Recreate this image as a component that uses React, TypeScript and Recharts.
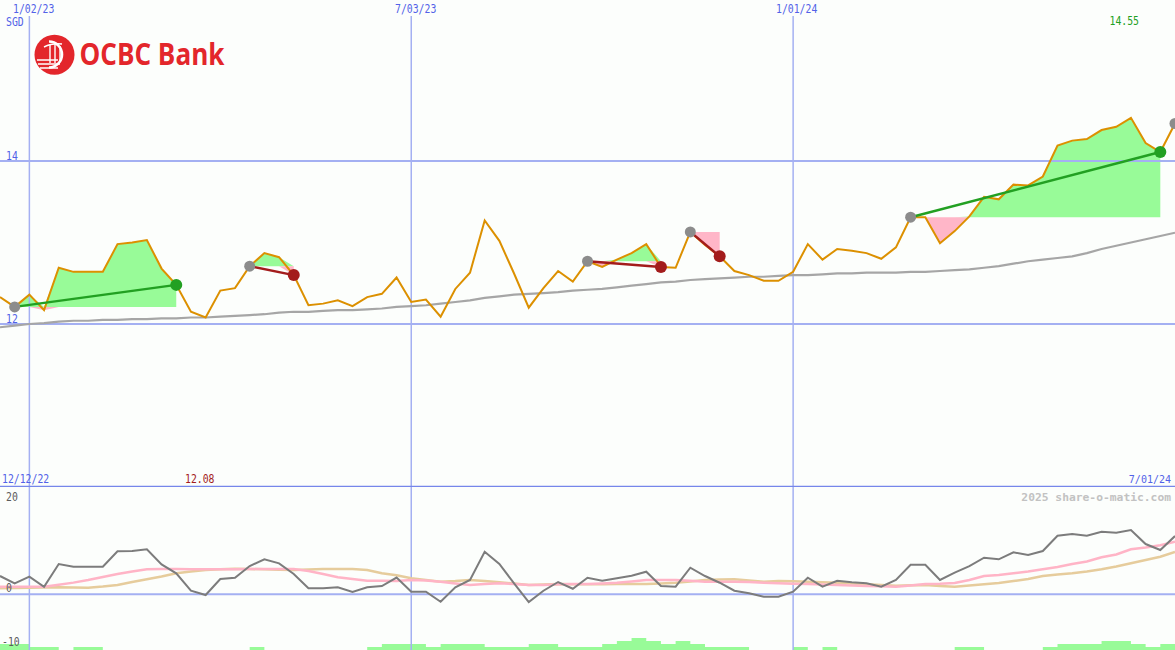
import React from 'react';
import { ComposedChart, Line, Area, XAxis, YAxis, ReferenceLine } from 'recharts';

// weekly closes, 12/19/22 .. 7/01/24 (SGD)
const price = [
  12.33, 12.21, 12.36, 12.17, 12.69, 12.64, 12.64, 12.64, 12.98, 13.0,
  13.03, 12.68, 12.48, 12.15, 12.08, 12.41, 12.44, 12.71, 12.87, 12.82,
  12.6, 12.23, 12.25, 12.29, 12.22, 12.33, 12.37, 12.57, 12.27, 12.3,
  12.09, 12.43, 12.63, 13.27, 13.02, 12.62, 12.2, 12.44, 12.65, 12.52,
  12.77, 12.7, 12.79, 12.87, 12.98, 12.7, 12.69, 13.13, 12.97, 12.83,
  12.65, 12.6, 12.53, 12.53, 12.64, 12.98, 12.79, 12.92, 12.9, 12.87,
  12.8, 12.94, 13.31, 13.31, 12.99, 13.14, 13.32, 13.56, 13.53, 13.71,
  13.7, 13.81, 14.19, 14.25, 14.27, 14.38, 14.42, 14.53, 14.22, 14.11,
  14.46,
];

// long moving average (grey)
const ma40 = [
  11.96, 11.98, 12.0, 12.01, 12.03, 12.04, 12.04, 12.05, 12.05, 12.06,
  12.06, 12.07, 12.07, 12.08, 12.08, 12.09, 12.1, 12.11, 12.12, 12.14,
  12.15, 12.15, 12.16, 12.17, 12.17, 12.18, 12.19, 12.21, 12.22, 12.23,
  12.25, 12.27, 12.29, 12.32, 12.34, 12.36, 12.37, 12.38, 12.39, 12.41,
  12.42, 12.43, 12.45, 12.47, 12.49, 12.51, 12.52, 12.54, 12.55, 12.56,
  12.57, 12.58, 12.58, 12.59, 12.6, 12.6, 12.61, 12.62, 12.62, 12.63,
  12.63, 12.63, 12.64, 12.64, 12.65, 12.66, 12.67, 12.69, 12.71, 12.74,
  12.77, 12.79, 12.81, 12.83, 12.87, 12.92, 12.96, 13.0, 13.04, 13.08,
  13.12,
];

// lower panel oscillator (dark grey)
const osc = [
  3.76, 2.26, 3.62, 1.56, 6.23, 5.67, 5.67, 5.67, 8.84, 8.9,
  9.25, 6.16, 4.31, 0.74, -0.14, 3.14, 3.41, 5.81, 7.19, 6.37,
  4.17, 1.23, 1.23, 1.44, 0.47, 1.44, 1.71, 3.45, 0.53, 0.53,
  -1.52, 1.44, 2.94, 8.75, 6.23, 2.26, -1.58, 0.74, 2.53, 1.15,
  3.41, 2.79, 3.29, 3.82, 4.64, 1.71, 1.56, 5.47, 3.76, 2.38,
  0.74, 0.21, -0.49, -0.49, 0.53, 3.41, 1.56, 2.79, 2.47, 2.26,
  1.56, 2.94, 6.08, 6.08, 2.94, 4.44, 5.81, 7.52, 7.19, 8.63,
  8.07, 8.9, 12.04, 12.39, 12.04, 12.86, 12.66, 13.21, 10.33, 9.1,
  11.98,
];

// oscillator fast average (pink)
const oscPink = [
  1.56, 1.56, 1.56, 1.56, 1.97, 2.4, 2.94, 3.55, 4.17, 4.68,
  5.14, 5.2, 5.2, 5.14, 5.14, 5.14, 5.14, 5.2, 5.2, 5.2,
  5.2, 4.79, 4.17, 3.49, 3.14, 2.79, 2.79, 2.73, 2.94, 2.84,
  2.59, 2.22, 1.91, 2.12, 2.26, 2.12, 1.91, 1.91, 2.05, 2.12,
  2.12, 2.22, 2.38, 2.63, 2.94, 2.94, 2.94, 2.79, 2.59, 2.59,
  2.59, 2.53, 2.38, 2.26, 2.18, 2.12, 2.01, 1.91, 1.81, 1.71,
  1.64, 1.56, 1.81, 2.12, 2.18, 2.32, 2.94, 3.76, 3.97, 4.31,
  4.68, 5.14, 5.61, 6.23, 6.74, 7.6, 8.18, 9.25, 9.62, 10.07,
  10.81,
];

// oscillator slow average (tan)
const oscTan = [
  1.23, 1.29, 1.36, 1.4, 1.44, 1.4, 1.36, 1.6, 1.91, 2.53,
  3.08, 3.66, 4.31, 4.68, 4.99, 5.14, 5.26, 5.2, 5.14, 5.05,
  4.99, 5.1, 5.2, 5.2, 5.2, 4.99, 4.31, 3.9, 3.29, 2.94,
  2.59, 2.73, 2.94, 2.73, 2.47, 2.22, 1.91, 2.01, 2.12, 2.08,
  2.05, 2.08, 2.12, 2.12, 2.12, 2.22, 2.38, 2.63, 2.94, 3.04,
  3.08, 2.84, 2.59, 2.73, 2.67, 2.59, 2.49, 2.38, 2.22, 2.05,
  1.91, 1.77, 1.85, 1.91, 1.71, 1.56, 1.81, 2.05, 2.32, 2.73,
  3.14, 3.76, 4.07, 4.31, 4.68, 5.14, 5.71, 6.37, 7.05, 7.73,
  8.69,
];

// green histogram steps along the bottom edge
const hist = [
  2, 2, 1, 1, 0, 1, 1, 0, 0, 0,
  0, 0, 0, 0, 0, 0, 0, 1, 0, 0,
  0, 0, 0, 0, 0, 1, 2, 2, 2, 1,
  2, 2, 2, 1, 1, 1, 2, 2, 1, 1,
  1, 2, 3, 4, 3, 2, 3, 2, 1, 1,
  1, 0, 0, 0, 1, 0, 1, 0, 0, 0,
  0, 0, 0, 0, 0, 1, 1, 0, 0, 0,
  0, 1, 2, 2, 2, 3, 3, 2, 1, 2,
  2,
];

// trend signals: start index, end index, direction
const segStart = [1, 17, 40, 47, 62];
const segEnd = [12, 20, 45, 49, 79];
const segUp = [true, false, false, false, true];
const openSignal = 80;

// date grid (week index) and labels
const gridWeeks = [2, 28, 54];
const gridLabels = ['1/02/23', '7/03/23', '1/01/24'];
const startLabel = '12/12/22';
const endLabel = '7/01/24';
const priceTicks = [14, 12];
const oscTicks = ['20', '0', '-10'];
const minLabel = '12.08';
const maxLabel = '14.55';
const credit = '2025 share-o-matic.com';

const BG = '#fcfefc';
const BLUE = '#5262e8';
const GRID = '#a4b0f2';
const SEP = '#7686ea';
const GREEN_FILL = '#98fb98';
const PINK_FILL = '#ffb6c8';
const MONO = "'DejaVu Sans Mono', 'Liberation Mono', monospace";

const rows = price.map((p, i) => {
  const row: any = {
    i,
    price: p,
    ma: ma40[i],
    osc: osc[i],
    pink: oscPink[i],
    tan: oscTan[i],
    hist: hist[i],
  };
  segStart.forEach((s, k) => {
    const e = segEnd[k];
    if (i >= s && i <= e) {
      const b = price[s];
      row.gBand = [b, Math.max(p, b)];
      row.pBand = [Math.min(p, b), b];
    }
    if (i === s || i === e) row['t' + k] = p;
    if (i === s) row.grayDot = p;
    if (i === e) row[segUp[k] ? 'greenDot' : 'redDot'] = p;
  });
  if (i === openSignal) row.grayDot = p;
  return row;
});

const W = 1175;
const N = price.length - 1;

function Label({ t, x, y, c }: any) {
  return (
    <text
      x={x}
      y={y}
      fill={c}
      fontSize={12}
      fontFamily={MONO}
      textLength={t.length * 5.9}
      lengthAdjust="spacingAndGlyphs"
    >
      {t}
    </text>
  );
}

function RightLabel({ t, x, y, c, size = 11, bold = false }: any) {
  return (
    <text x={x} y={y} fill={c} fontSize={size} fontWeight={bold ? 700 : 400} fontFamily={MONO} textAnchor="end">
      {t}
    </text>
  );
}

export default function App() {
  const gridX = [13, 395, 776];
  return (
    <div
      style={{
        position: 'absolute',
        left: 0,
        top: 0,
        width: W,
        height: 650,
        background: BG,
        overflow: 'hidden',
      }}
    >
      <div style={{ position: 'absolute', left: 0, top: -2 }}>
        <ComposedChart width={W} height={489} data={rows} margin={{ top: 0, right: 0, bottom: 0, left: 0 }}>
          <XAxis type="number" dataKey="i" domain={[0, N]} hide />
          <YAxis type="number" domain={[10, 16]} hide allowDataOverflow />
          {priceTicks.map((v) => (
            <ReferenceLine key={'h' + v} y={v} stroke={GRID} strokeWidth={2} />
          ))}
          {gridWeeks.map((w) => (
            <ReferenceLine
              key={'v' + w}
              segment={[
                { x: w, y: 15.78 },
                { x: w, y: 10 },
              ]}
              stroke={GRID}
              strokeWidth={1.5}
            />
          ))}
          <ReferenceLine y={10} stroke={SEP} strokeWidth={2.5} />
          <Area dataKey="gBand" fill={GREEN_FILL} fillOpacity={1} stroke="none" dot={false} activeDot={false} isAnimationActive={false} />
          <Area dataKey="pBand" fill={PINK_FILL} fillOpacity={1} stroke="none" dot={false} activeDot={false} isAnimationActive={false} />
          <Line dataKey="ma" stroke="#a6a6a6" strokeWidth={2.2} dot={false} activeDot={false} isAnimationActive={false} />
          <Line dataKey="price" stroke="#dc9000" strokeWidth={2} dot={false} activeDot={false} isAnimationActive={false} />
          {segStart.map((s, k) => (
            <Line
              key={'t' + k}
              dataKey={'t' + k}
              stroke={segUp[k] ? '#22a022' : '#a31c1c'}
              strokeWidth={2.5}
              connectNulls
              dot={false}
              activeDot={false}
              isAnimationActive={false}
            />
          ))}
          <Line dataKey="grayDot" stroke="none" dot={{ r: 5.5, fill: '#8c8c8c', stroke: 'none' }} activeDot={false} isAnimationActive={false} />
          <Line dataKey="greenDot" stroke="none" dot={{ r: 6, fill: '#22a022', stroke: 'none' }} activeDot={false} isAnimationActive={false} />
          <Line dataKey="redDot" stroke="none" dot={{ r: 6, fill: '#a31c1c', stroke: 'none' }} activeDot={false} isAnimationActive={false} />
        </ComposedChart>
      </div>

      <div style={{ position: 'absolute', left: 0, top: 487 }}>
        <ComposedChart width={W} height={163} data={rows} margin={{ top: 0, right: 0, bottom: 0, left: 0 }}>
          <XAxis type="number" dataKey="i" domain={[0, N]} hide />
          <YAxis yAxisId="v" type="number" domain={[-11.44, 22.05]} hide allowDataOverflow />
          <YAxis yAxisId="h" type="number" domain={[0, 54]} hide allowDataOverflow />
          <ReferenceLine yAxisId="v" y={0} stroke={GRID} strokeWidth={2} />
          {gridWeeks.map((w) => (
            <ReferenceLine key={'bv' + w} yAxisId="v" x={w} stroke={GRID} strokeWidth={1.5} />
          ))}
          <Area yAxisId="h" type="stepAfter" dataKey="hist" fill={GREEN_FILL} fillOpacity={1} stroke="none" dot={false} activeDot={false} isAnimationActive={false} />
          <Line yAxisId="v" dataKey="tan" stroke="#e6cc9c" strokeWidth={2.5} dot={false} activeDot={false} isAnimationActive={false} />
          <Line yAxisId="v" dataKey="pink" stroke="#ffb4c6" strokeWidth={2.5} dot={false} activeDot={false} isAnimationActive={false} />
          <Line yAxisId="v" dataKey="osc" stroke="#7c7c7c" strokeWidth={2} dot={false} activeDot={false} isAnimationActive={false} />
        </ComposedChart>
      </div>

      <svg width={W} height={650} style={{ position: 'absolute', left: 0, top: 0, pointerEvents: 'none' }}>
        {gridLabels.map((t, k) => (
          <Label key={t} t={t} x={gridX[k]} y={13} c={BLUE} />
        ))}
        <Label t="SGD" x={6} y={26} c={BLUE} />
        <Label t={String(priceTicks[0])} x={6} y={160} c={BLUE} />
        <Label t={String(priceTicks[1])} x={6} y={322.5} c={BLUE} />
        <Label t={maxLabel} x={1109.5} y={25} c="#22a022" />
        <Label t={startLabel} x={2} y={482.5} c={BLUE} />
        <Label t={minLabel} x={185} y={482.5} c="#a31c1c" />
        <RightLabel t={endLabel} x={1171} y={482.5} c={BLUE} size={10} />
        <RightLabel t={credit} x={1171} y={500.5} c="#c2c2c2" size={11.3} bold />
        <Label t={oscTicks[0]} x={6} y={500.5} c="#5c5c5c" />
        <Label t={oscTicks[1]} x={6} y={591.5} c="#5c5c5c" />
        <Label t={oscTicks[2]} x={2} y={646} c="#5c5c5c" />

        {/* OCBC Bank logo */}
        <g>
          <circle cx={54.5} cy={54.7} r={20} fill="#e3262b" />
          <path d="M 49 41.5 A 13 13 0 1 1 49 67.5" fill="none" stroke="#fff" strokeWidth={2.6} />
          <path d="M 50 45 L 50 63 M 55 44 L 55 63 M 60 46 L 60 62" stroke="#fff" strokeWidth={1.4} />
          <path d="M 44 47 Q 52 43 62 44" fill="none" stroke="#fff" strokeWidth={1.4} />
          <path d="M 37 60 L 58 60 M 38 64 L 60 64 M 40 68 L 58 68" stroke="#fff" strokeWidth={1.6} />
          <text
            x={79.5}
            y={65}
            fill="#e3262b"
            fontSize={30}
            fontWeight={700}
            fontFamily="'Open Sans', 'Noto Sans', sans-serif"
            textLength={145}
            lengthAdjust="spacingAndGlyphs"
          >
            OCBC Bank
          </text>
        </g>
      </svg>
    </div>
  );
}
